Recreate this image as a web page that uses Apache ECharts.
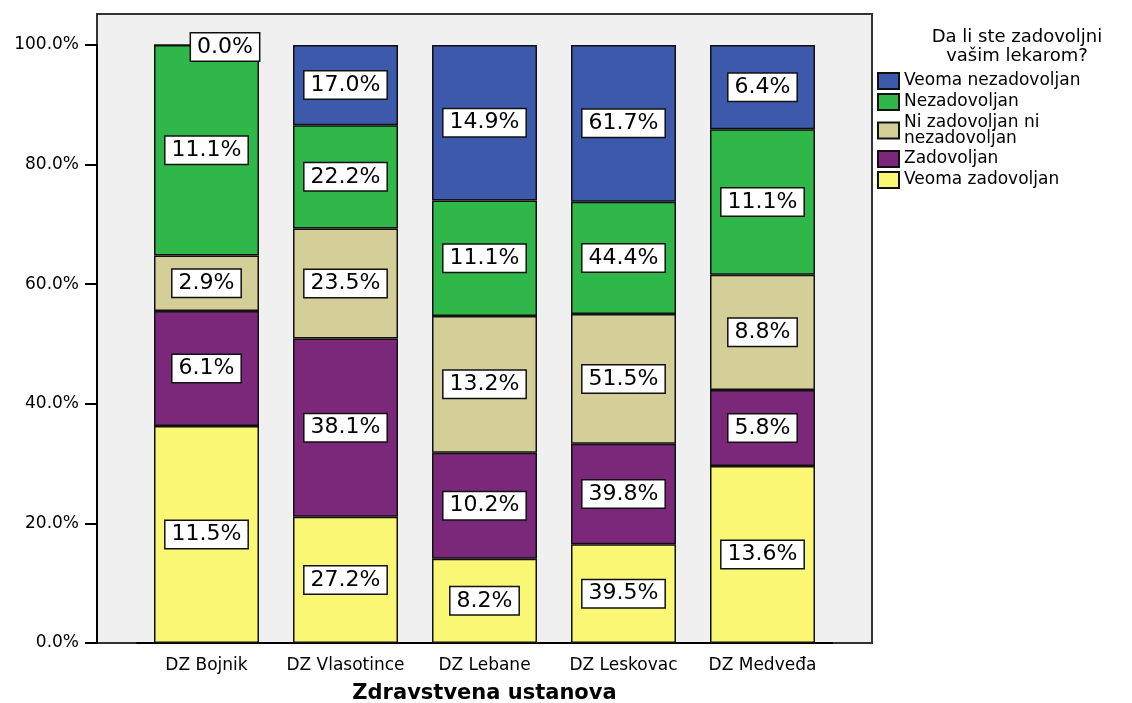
<!DOCTYPE html>
<html>
<head>
<meta charset="utf-8">
<script src="https://cdn.jsdelivr.net/npm/echarts@6/dist/echarts.min.js"></script>
<style>html,body{margin:0;padding:0;background:#fff}#c{width:1132px;height:703px}</style>
</head>
<body>
<div id="c"></div>
<script>
const categories = ['DZ Bojnik', 'DZ Vlasotince', 'DZ Lebane', 'DZ Leskovac', 'DZ Medveđa'];
const seriesNames = ['Veoma zadovoljan', 'Zadovoljan', 'Ni zadovoljan ni\nnezadovoljan', 'Nezadovoljan', 'Veoma nezadovoljan'];
// segment heights (column percent)
const veomaZadovoljan   = [36.3, 21.1, 14.1, 16.5, 29.6];
const zadovoljan        = [19.2, 29.8, 17.7, 16.8, 12.7];
const niNi              = [9.3, 18.4, 22.9, 21.7, 19.3];
const nezadovoljan      = [35.2, 17.3, 19.3, 18.8, 24.3];
const veomaNezadovoljan = [0.0, 13.4, 26.0, 26.2, 14.1];
// printed labels
const lblVeomaZadovoljan   = [11.5, 27.2, 8.2, 39.5, 13.6];
const lblZadovoljan        = [6.1, 38.1, 10.2, 39.8, 5.8];
const lblNiNi              = [2.9, 23.5, 13.2, 51.5, 8.8];
const lblNezadovoljan      = [11.1, 22.2, 11.1, 44.4, 11.1];
const lblVeomaNezadovoljan = [0.0, 17.0, 14.9, 61.7, 6.4];
const yTicks = [0, 20, 40, 60, 80, 100];

const values = [veomaZadovoljan, zadovoljan, niNi, nezadovoljan, veomaNezadovoljan];
const labels = [lblVeomaZadovoljan, lblZadovoljan, lblNiNi, lblNezadovoljan, lblVeomaNezadovoljan];
const colors = ['#faf774', '#7b287b', '#d4ce98', '#2fb74a', '#3d59ab'];
const FONT = 'DejaVu Sans';

const series = values.map((vals, si) => ({
  name: seriesNames[si],
  type: 'bar',
  stack: 'total',
  xAxisIndex: 1,
  yAxisIndex: 1,
  barWidth: 105,
  itemStyle: { color: colors[si], borderColor: '#111', borderWidth: 1.5 },
  label: {
    show: true,
    position: 'inside',
    fontFamily: FONT,
    fontSize: 22,
    color: '#000',
    backgroundColor: '#fff',
    borderColor: '#111',
    borderWidth: 1.5,
    padding: [3, 6, 2, 6],
    formatter: p => labels[si][p.dataIndex].toFixed(1) + '%'
  },
  emphasis: { disabled: true },
  data: vals.map((v, i) => (v === 0 ? { value: v, label: { offset: [18.5, 2] } } : v))
}));

const chart = echarts.init(document.getElementById('c'));
chart.setOption({
  animation: false,
  backgroundColor: '#fff',
  title: {
    text: 'Da li ste zadovoljni\nvašim lekarom?',
    left: 1012,
    top: 23,
    textAlign: 'center',
    textStyle: { fontFamily: FONT, fontSize: 18, fontWeight: 'normal', color: '#000', lineHeight: 19 }
  },
  legend: {
    orient: 'vertical',
    left: 872,
    top: 67,
    itemWidth: 21,
    itemHeight: 16,
    itemGap: 3,
    icon: 'rect',
    data: [seriesNames[4], seriesNames[3], seriesNames[2], seriesNames[1], seriesNames[0]],
    textStyle: { fontFamily: FONT, fontSize: 17, color: '#000', lineHeight: 16 },
    selectedMode: false
  },
  grid: [
    { left: 97, right: 260, top: 14, bottom: 60, outerBoundsMode: 'none', containLabel: false, show: true, backgroundColor: '#f0f0f0', borderColor: '#333', borderWidth: 2 },
    { left: 137, right: 300, top: 45, bottom: 60, outerBoundsMode: 'none', containLabel: false }
  ],
  xAxis: [
    { gridIndex: 0, type: 'value', show: false },
    {
      gridIndex: 1,
      type: 'category',
      data: categories,
      name: 'Zdravstvena ustanova',
      nameLocation: 'middle',
      nameGap: 40,
      nameMoveOverlap: false,
      nameTextStyle: { fontFamily: FONT, fontSize: 21, fontWeight: 'bold', color: '#000' },
      axisLine: { lineStyle: { color: '#000', width: 2 } },
      axisTick: { alignWithLabel: true, length: 10, lineStyle: { color: '#000', width: 2 } },
      axisLabel: { fontFamily: FONT, fontSize: 17, color: '#000', margin: 14, interval: 0, hideOverlap: false }
    }
  ],
  yAxis: [
    { gridIndex: 0, type: 'value', show: false },
    {
      gridIndex: 1,
      type: 'value',
      min: yTicks[0],
      max: yTicks[yTicks.length - 1],
      interval: 20,
      offset: 40,
      splitLine: { show: false },
      axisLine: { show: true, lineStyle: { color: '#000', width: 2 } },
      axisTick: { show: true, length: 12, lineStyle: { color: '#000', width: 2 } },
      axisLabel: { fontFamily: FONT, fontSize: 17, color: '#000', margin: 18, formatter: v => v.toFixed(1) + '%' }
    }
  ],
  series: series
});
</script>
</body>
</html>
